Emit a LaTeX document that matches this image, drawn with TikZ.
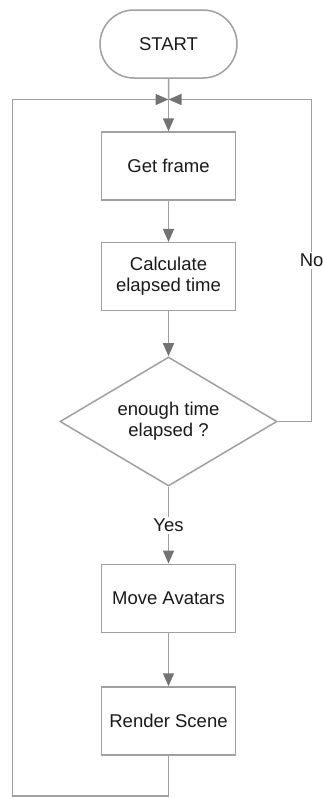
\documentclass[tikz,border=0pt]{standalone}
\usepackage{fontspec}
\setmainfont{Liberation Sans}
\usetikzlibrary{arrows.meta,shapes.geometric,shapes.misc}
\definecolor{linegray}{HTML}{A0A0A0}
\definecolor{tipgray}{HTML}{737373}
\definecolor{inkcol}{HTML}{1A1A1A}
\begin{document}
\begin{tikzpicture}[x=1pt,y=-1pt,
  every node/.style={font=\fontsize{18.5}{21}\selectfont, text=inkcol},
  box/.style={draw=linegray, line width=1.5pt, fill=white, minimum width=134pt, minimum height=68pt, inner sep=0pt, align=center},
  terminal/.style={rounded rectangle, draw=linegray, line width=1.5pt, fill=white, minimum width=137pt, minimum height=68pt, inner sep=0pt},
  decision/.style={diamond, draw=linegray, line width=1.5pt, fill=white, minimum width=217pt, minimum height=129pt, shape aspect=1.68, inner sep=0pt, align=center},
  flow/.style={draw=linegray, line width=1.5pt},
  arrow/.style={flow, -{Triangle[length=13pt,width=11pt,color=tipgray,fill=tipgray]}},
  edgelabel/.style={fill=white, inner sep=2pt}]
  \useasboundingbox (0,0) rectangle (323,798);

  % nodes
  \node[terminal] (start) at (168.5,44) {START};
  \coordinate (join) at (168.5,99.5);
  \node[box] (getframe) at (168.5,166) {Get frame};
  \node[box] (calc) at (168.5,276.7) {Calculate\\elapsed time};
  \node[decision] (check) at (168.5,421.5) {enough time\\elapsed ?};
  \node[box] (move) at (168.5,598.3) {Move Avatars};
  \node[box] (render) at (168.5,721) {Render Scene};

  % loop corners
  \coordinate (noright) at (311.7,421.5);
  \coordinate (notop) at (311.7,99.5);
  \coordinate (loopbottom) at (168.5,796);
  \coordinate (loopleftbottom) at (12.7,796);
  \coordinate (lefttop) at (12.7,99.5);

  % main flow
  \draw[flow] (start) -- (join);
  \draw[arrow] (join) -- (getframe);
  \draw[arrow] (getframe) -- (calc);
  \draw[arrow] (calc) -- (check);
  \draw[arrow] (check) -- node[edgelabel, pos=0.5] (yes) {Yes} (move);
  \draw[arrow] (move) -- (render);

  % "No" branch back to the top
  \draw[arrow] (check.east) -- (noright) -- node[edgelabel, pos=0.5] (no) {No} (notop) -- (join);

  % loop back after rendering
  \draw[arrow] (render) -- (loopbottom) -- (loopleftbottom) -- (lefttop) -- (join);
\end{tikzpicture}
\end{document}
